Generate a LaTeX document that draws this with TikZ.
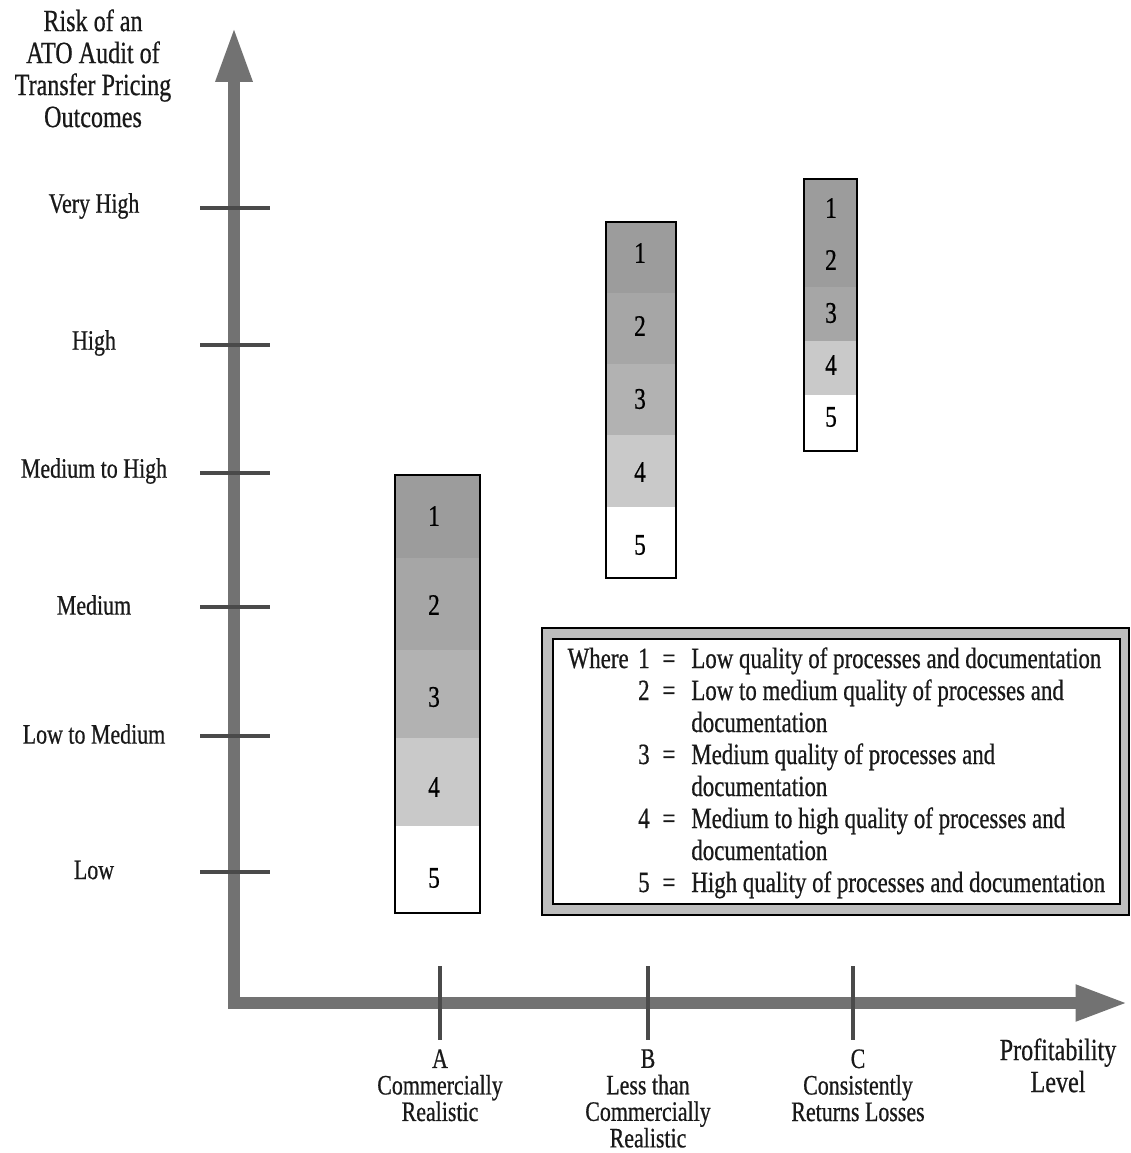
\documentclass[tikz,border=0pt]{standalone}
\usepackage{fontspec}
\setmainfont{Liberation Serif}[FakeStretch=0.78,FakeBold=0.6]
\usetikzlibrary{arrows.meta}
\definecolor{axisgray}{HTML}{727272}
\definecolor{tickgray}{HTML}{4A4A4A}
\definecolor{cA}{HTML}{9C9C9C}
\definecolor{cB}{HTML}{A6A6A6}
\definecolor{cC}{HTML}{B2B2B2}
\definecolor{cD}{HTML}{C9C9C9}
\definecolor{band}{HTML}{BDBDBD}
\begin{document}
\begin{tikzpicture}[x=0.02cm,y=-0.02cm,
  lbl/.style={font=\fontsize{16}{16}\selectfont, inner sep=0pt, text=black!90},
  ttl/.style={font=\fontsize{17.6}{18.2}\selectfont, inner sep=0pt, align=center, text=black!90},
  xlbl/.style={font=\fontsize{16}{15.1}\selectfont, inner sep=0pt, align=center, text=black!90},
  leg/.style={font=\fontsize{16.7}{16.7}\selectfont, inner sep=0pt, text=black!90},
  num/.style={font=\fontsize{17}{17}\selectfont, inner sep=0pt},
  axisline/.style={draw=axisgray, line width=0.24cm, line join=miter,
     {Triangle[length=1.1cm,width=0.68cm]}-{Triangle[length=1.05cm,width=0.67cm]}},
  tick/.style={draw=tickgray, line width=1.8pt},
  barframe/.style={draw=black, line width=1.2pt}]
\useasboundingbox (0,0) rectangle (1130,1153);

% axes
\coordinate (ytip) at (234,27);
\coordinate (origin) at (234,1003);
\coordinate (xtip) at (1128,1003);
\draw[axisline] (ytip) -- (origin) -- (xtip);

% y ticks and labels
\foreach \yy/\name/\txt in {208/vh/Very High, 345/hi/High, 473/mh/Medium to High, 607/me/Medium, 736/lm/Low to Medium, 872/lo/Low}{
  \coordinate (t\name L) at (200,\yy);
  \coordinate (t\name R) at (270,\yy);
  \draw[tick] (t\name L) -- (t\name R);
  \node[lbl] (l\name) at (94,\yy-2) {\txt};
}
\node[ttl, anchor=north] (ytitle) at (93,9) {Risk of an\\ATO Audit of\\Transfer Pricing\\Outcomes};

% x ticks and labels
\foreach \xx/\name in {440/A, 648/B, 853/C}{
  \coordinate (x\name T) at (\xx,966);
  \coordinate (x\name B) at (\xx,1040);
  \draw[tick] (x\name T) -- (x\name B);
}
\node[xlbl, anchor=north] (labA) at (440,1049) {A\\Commercially\\Realistic};
\node[xlbl, anchor=north] (labB) at (648,1049) {B\\Less than\\Commercially\\Realistic};
\node[xlbl, anchor=north] (labC) at (858,1049) {C\\Consistently\\Returns Losses};
\node[ttl, anchor=north] (labP) at (1058,1038) {Profitability\\Level};

% bar A
\fill[cA] (395,475) rectangle (480,558);
\fill[cB] (395,558) rectangle (480,650);
\fill[cC] (395,650) rectangle (480,738);
\fill[cD] (395,738) rectangle (480,826);
\fill[white] (395,826) rectangle (480,913);
\draw[barframe] (395,475) rectangle (480,913);
\node[num] (a1) at (434,516) {1};
\node[num] (a2) at (434,605) {2};
\node[num] (a3) at (434,697) {3};
\node[num] (a4) at (434,787) {4};
\node[num] (a5) at (434,878) {5};

% bar B
\fill[cA] (606,222) rectangle (676,293);
\fill[cB] (606,293) rectangle (676,364);
\fill[cC] (606,364) rectangle (676,435);
\fill[cD] (606,435) rectangle (676,507);
\fill[white] (606,507) rectangle (676,578);
\draw[barframe] (606,222) rectangle (676,578);
\node[num] (b1) at (640,253) {1};
\node[num] (b2) at (640,326) {2};
\node[num] (b3) at (640,399) {3};
\node[num] (b4) at (640,472) {4};
\node[num] (b5) at (640,545) {5};

% bar C
\fill[cA] (804,179) rectangle (857,233);
\fill[cA] (804,233) rectangle (857,287);
\fill[cB] (804,287) rectangle (857,341);
\fill[cD] (804,341) rectangle (857,395);
\fill[white] (804,395) rectangle (857,451);
\draw[barframe] (804,179) rectangle (857,451);
\node[num] (c1) at (831,208) {1};
\node[num] (c2) at (831,260) {2};
\node[num] (c3) at (831,313) {3};
\node[num] (c4) at (831,365) {4};
\node[num] (c5) at (831,417) {5};

% legend
\filldraw[fill=band, draw=black, line width=1pt] (542,628) rectangle (1129,915);
\filldraw[fill=white, draw=black, line width=1.6pt] (553,639) rectangle (1120,904);
\node[leg, anchor=base east] (where) at (629,668) {Where};
\foreach \n/\yy in {1/668, 2/700, 3/764, 4/828, 5/892}{
  \node[leg, anchor=base east] (n\n) at (650,\yy) {\n};
  \node[leg, anchor=base] (e\n) at (669,\yy) {=};
}
\node[leg, anchor=base west] (d1) at (691,668) {Low quality of processes and documentation};
\node[leg, anchor=base west] (d2) at (691,700) {Low to medium quality of processes and};
\node[leg, anchor=base west] (d2b) at (691,732) {documentation};
\node[leg, anchor=base west] (d3) at (691,764) {Medium quality of processes and};
\node[leg, anchor=base west] (d3b) at (691,796) {documentation};
\node[leg, anchor=base west] (d4) at (691,828) {Medium to high quality of processes and};
\node[leg, anchor=base west] (d4b) at (691,860) {documentation};
\node[leg, anchor=base west] (d5) at (691,892) {High quality of processes and documentation};
\end{tikzpicture}
\end{document}
